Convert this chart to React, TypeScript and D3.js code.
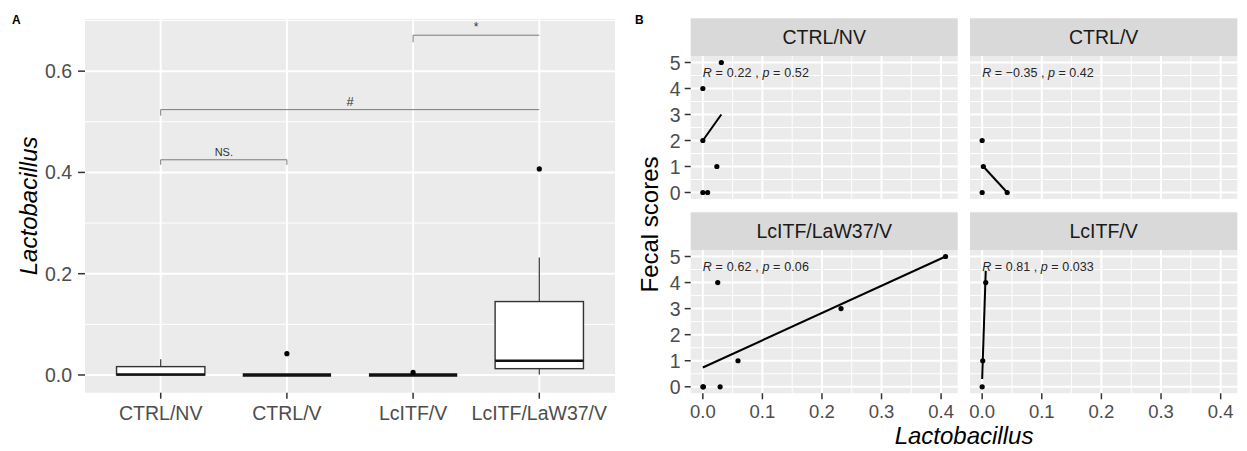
import React from 'react';
import * as d3 from 'd3';

// ---- Panel A: boxplot of Lactobacillus per group ----
const categories = ["CTRL/NV", "CTRL/V", "LcITF/V", "LcITF/LaW37/V"];
const whiskerLow = [0, 0, 0, 0.001];
const boxLower = [0, 0, 0, 0.0125];
const boxMedian = [0.001, 0, 0, 0.028];
const boxUpper = [0.0165, 0, 0, 0.145];
const whiskerHigh = [0.031, 0, 0, 0.232];
const outliers = [[], [0.042], [0.005], [0.407]];
const yTicksA = [0, 0.2, 0.4, 0.6];

// significance brackets
const bracketFrom = ["CTRL/NV", "CTRL/NV", "LcITF/V"];
const bracketTo = ["CTRL/V", "LcITF/LaW37/V", "LcITF/LaW37/V"];
const bracketY = [0.425, 0.524, 0.671];
const bracketTipL = [0.01, 0.012, 0.014];
const bracketTipR = [0.01, 0, 0];
const bracketLabels = ["NS.", "#", "*"];

// ---- Panel B: faceted scatter, Fecal scores vs Lactobacillus ----
const facetNames = ["CTRL/NV", "CTRL/V", "LcITF/LaW37/V", "LcITF/V"];
const facetX = [
  [0.031, 0, 0, 0.0235, 0, 0.008],
  [0, 0.002, 0, 0.042],
  [0, 0.001, 0.029, 0.025, 0.059, 0.232, 0.4075],
  [0.006, 0.001, 0],
];
const facetY = [
  [5, 4, 2, 1, 0, 0],
  [2, 1, 0, 0],
  [0, 0, 0, 4, 1, 3, 5],
  [4, 1, 0],
];
const fitX = [[0, 0.031], [0, 0.042], [0, 0.4075], [0, 0.006]];
const fitY = [[2.0, 3.0], [1.05, 0], [0.74, 5.0], [0.3, 4.45]];
const corR = ["0.22", "\u22120.35", "0.62", "0.81"];
const corP = ["0.52", "0.42", "0.06", "0.033"];
const xTicksB = [0, 0.1, 0.2, 0.3, 0.4];
const yTicksB = [0, 1, 2, 3, 4, 5];

const FONT = "'Liberation Sans', Arial, Helvetica, sans-serif";
const PANEL_BG = "#EBEBEB";
const TICK_TXT = "#4D4D4D";
const TICK = "#333333";

const BoxPanel = () => {
  const left = 85, right = 615, top = 19, bottom = 392.7;
  const x = d3.scalePoint<string>().domain(categories).range([left, right]).padding(0.6);
  const y = d3.scaleLinear().domain([-0.035, 0.703]).range([bottom, top]);
  const bw = x.step() * 0.7;
  const minor = d3.range(0.1, 0.71, 0.2).filter(v => v <= y.domain()[1]);

  return (
    <g>
      <text x={12} y={24} fontFamily={FONT} fontWeight="bold" fontSize={12}>A</text>
      <rect x={left} y={top} width={right - left} height={bottom - top} fill={PANEL_BG} />
      {minor.map(v => (
        <line key={"mn" + v} x1={left} x2={right} y1={y(v)} y2={y(v)} stroke="#fff" strokeWidth={1} />
      ))}
      {yTicksA.map(v => (
        <line key={"mj" + v} x1={left} x2={right} y1={y(v)} y2={y(v)} stroke="#fff" strokeWidth={2} />
      ))}
      {categories.map(c => (
        <line key={"vx" + c} x1={x(c)} x2={x(c)} y1={top} y2={bottom} stroke="#fff" strokeWidth={2} />
      ))}

      {categories.map((c, i) => {
        const cx = x(c)!;
        return (
          <g key={"box" + c}>
            <line x1={cx} x2={cx} y1={y(boxUpper[i])} y2={y(whiskerHigh[i])} stroke={TICK} strokeWidth={1.2} />
            <line x1={cx} x2={cx} y1={y(boxLower[i])} y2={y(whiskerLow[i])} stroke={TICK} strokeWidth={1.2} />
            <rect x={cx - bw / 2} y={y(boxUpper[i])} width={bw}
              height={Math.max(0, y(boxLower[i]) - y(boxUpper[i]))}
              fill="#fff" stroke={TICK} strokeWidth={1.4} />
            <line x1={cx - bw / 2} x2={cx + bw / 2} y1={y(boxMedian[i])} y2={y(boxMedian[i])}
              stroke="#111" strokeWidth={boxUpper[i] === boxLower[i] ? 3.4 : 2.6} />
            {outliers[i].map((o, j) => (
              <circle key={j} cx={cx} cy={y(o)} r={2.6} fill="#000" />
            ))}
          </g>
        );
      })}

      {bracketLabels.map((lab, i) => {
        const x1 = x(bracketFrom[i])!, x2 = x(bracketTo[i])!;
        const by = y(bracketY[i]);
        return (
          <g key={"br" + i}>
            <path
              d={`M${x1},${y(bracketY[i] - bracketTipL[i])}V${by}H${x2}V${y(bracketY[i] - bracketTipR[i])}`}
              fill="none" stroke="#7a7a7a" strokeWidth={1} />
            <text x={(x1 + x2) / 2} y={by - 4} textAnchor="middle" fontFamily={FONT}
              fontSize={lab === "#" ? 13 : lab === "*" ? 12 : 11} fill="#333">{lab}</text>
          </g>
        );
      })}

      {yTicksA.map(v => (
        <g key={"yt" + v}>
          <line x1={left - 7} x2={left} y1={y(v)} y2={y(v)} stroke={TICK} strokeWidth={1.5} />
          <text x={left - 13} y={y(v)} dy="0.36em" textAnchor="end" fontFamily={FONT}
            fontSize={19.5} fill={TICK_TXT}>{v.toFixed(1)}</text>
        </g>
      ))}
      {categories.map(c => (
        <g key={"xt" + c}>
          <line x1={x(c)} x2={x(c)} y1={bottom} y2={bottom + 6} stroke={TICK} strokeWidth={1.5} />
          <text x={x(c)} y={413} dy="0.36em" textAnchor="middle" fontFamily={FONT}
            fontSize={19.5} fill={TICK_TXT}>{c}</text>
        </g>
      ))}
      <text transform={`translate(28,${(top + bottom) / 2}) rotate(-90)`} textAnchor="middle"
        dy="0.36em" fontFamily={FONT} fontStyle="italic" fontSize={24} fill="#000">Lactobacillus</text>
    </g>
  );
};

const FacetPanel = () => {
  const cols = [[690.7, 957.7], [970, 1237.3]];
  const rows = [[18.3, 56, 199], [212.3, 250, 393.3]];
  const xDomain: [number, number] = [-0.0204, 0.4279];
  const yDomain: [number, number] = [-0.25, 5.25];
  const xMinor = [0.05, 0.15, 0.25, 0.35];
  const yMinor = [0.5, 1.5, 2.5, 3.5, 4.5];

  return (
    <g>
      <text x={635} y={24} fontFamily={FONT} fontWeight="bold" fontSize={12}>B</text>
      {facetNames.map((name, f) => {
        const col = f % 2, row = Math.floor(f / 2);
        const [l, r] = cols[col];
        const [st, t, b] = rows[row];
        const x = d3.scaleLinear().domain(xDomain).range([l, r]);
        const y = d3.scaleLinear().domain(yDomain).range([b, t]);
        const line = d3.line<number>().x((_, i) => x(fitX[f][i])).y(v => y(v));
        const label = `R = ${corR[f]} , p = ${corP[f]}`;
        return (
          <g key={name}>
            <rect x={l} y={st} width={r - l} height={t - st} fill="#D9D9D9" />
            <text x={(l + r) / 2} y={(st + t) / 2} dy="0.36em" textAnchor="middle" fontFamily={FONT}
              fontSize={19.5} fill="#1A1A1A">{name}</text>
            <rect x={l} y={t} width={r - l} height={b - t} fill={PANEL_BG} />
            {xMinor.map(v => (
              <line key={"xm" + v} x1={x(v)} x2={x(v)} y1={t} y2={b} stroke="#fff" strokeWidth={1} />
            ))}
            {yMinor.map(v => (
              <line key={"ym" + v} x1={l} x2={r} y1={y(v)} y2={y(v)} stroke="#fff" strokeWidth={1} />
            ))}
            {xTicksB.map(v => (
              <line key={"xj" + v} x1={x(v)} x2={x(v)} y1={t} y2={b} stroke="#fff" strokeWidth={2} />
            ))}
            {yTicksB.map(v => (
              <line key={"yj" + v} x1={l} x2={r} y1={y(v)} y2={y(v)} stroke="#fff" strokeWidth={2} />
            ))}
            <text x={x(0)} y={y(4.6)} dy="0.36em" fontFamily={FONT} fontSize={12.5} fill="#262626"
              textLength={label.length * 5.58} lengthAdjust="spacing">
              <tspan fontStyle="italic">R</tspan>{` = ${corR[f]} , `}
              <tspan fontStyle="italic">p</tspan>{` = ${corP[f]}`}
            </text>
            <path d={line(fitY[f]) || ""} fill="none" stroke="#000" strokeWidth={2} />
            {facetX[f].map((v, i) => (
              <circle key={"p" + i} cx={x(v)} cy={y(facetY[f][i])} r={2.6} fill="#000" />
            ))}
            {col === 0 && yTicksB.map(v => (
              <g key={"yt" + v}>
                <line x1={l - 6} x2={l} y1={y(v)} y2={y(v)} stroke={TICK} strokeWidth={1.5} />
                <text x={l - 10} y={y(v)} dy="0.36em" textAnchor="end" fontFamily={FONT}
                  fontSize={19.5} fill={TICK_TXT}>{v}</text>
              </g>
            ))}
            {row === 1 && xTicksB.map(v => (
              <g key={"xt" + v}>
                <line x1={x(v)} x2={x(v)} y1={b} y2={b + 6} stroke={TICK} strokeWidth={1.5} />
                <text x={x(v)} y={411} dy="0.36em" textAnchor="middle" fontFamily={FONT}
                  fontSize={18.5} fill={TICK_TXT}>{v.toFixed(1)}</text>
              </g>
            ))}
          </g>
        );
      })}
      <text transform="translate(649,224.5) rotate(-90)" textAnchor="middle" dy="0.36em"
        fontFamily={FONT} fontSize={24} fill="#000">Fecal scores</text>
      <text x={964} y={435} dy="0.36em" textAnchor="middle" fontFamily={FONT} fontStyle="italic"
        fontSize={24} fill="#000">Lactobacillus</text>
    </g>
  );
};

export default function App() {
  return (
    <div>
      <style>{`body{margin:0;background:#fff}`}</style>
      <svg width={1247} height={451} viewBox="0 0 1247 451" style={{ display: "block" }}>
        <rect width={1247} height={451} fill="#fff" />
        <BoxPanel />
        <FacetPanel />
      </svg>
    </div>
  );
}
